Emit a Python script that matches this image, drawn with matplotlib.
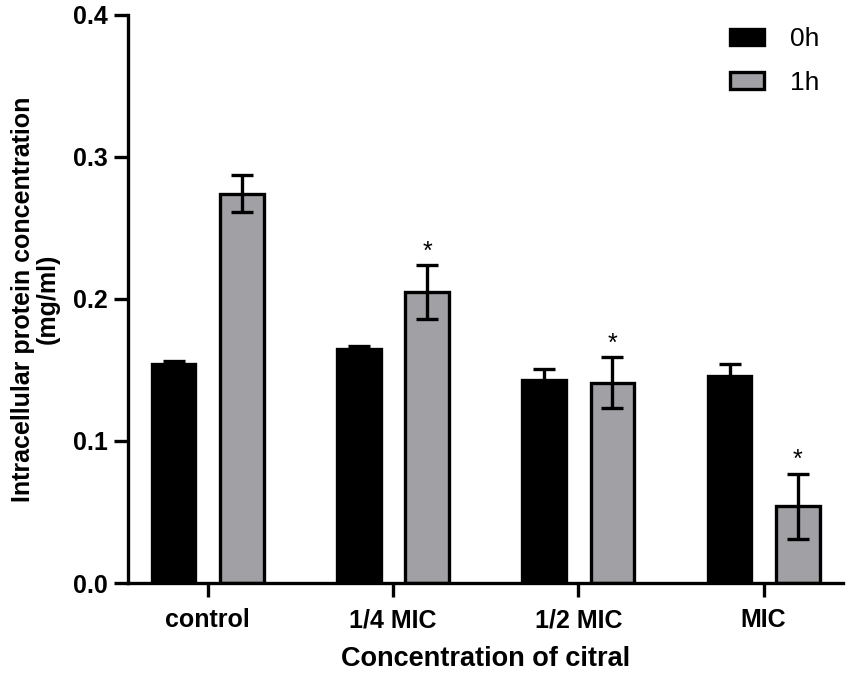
import matplotlib
matplotlib.use("Agg")
import matplotlib.pyplot as plt
import numpy as np

plt.rcParams['font.family'] = ['Liberation Sans', 'DejaVu Sans']

categories = ["control", "1/4 MIC", "1/2 MIC", "MIC"]
series_names = ["0h", "1h"]
values_0h = [0.154, 0.165, 0.143, 0.146]
err_0h = [0.002, 0.002, 0.008, 0.008]
values_1h = [0.274, 0.205, 0.141, 0.054]
err_1h = [0.013, 0.019, 0.018, 0.023]
sig_1h = ["", "*", "*", "*"]
yticks = [0.0, 0.1, 0.2, 0.3, 0.4]

fig = plt.figure(figsize=(8.51, 6.74), dpi=100)
ax = fig.add_axes([0.150, 0.135, 0.841, 0.843])

x = np.arange(len(categories))
off = 0.184
w = 0.235
lw = 2.4

ax.bar(x - off, values_0h, w, color="black", edgecolor="black", linewidth=lw, label=series_names[0], zorder=2)
ax.errorbar(x - off, values_0h, yerr=err_0h, fmt="none", ecolor="black", elinewidth=lw, capsize=8, capthick=lw, zorder=3)
ax.bar(x + off, values_1h, w, color="#a1a1a5", edgecolor="black", linewidth=lw, label=series_names[1], zorder=2)
ax.errorbar(x + off, values_1h, yerr=err_1h, fmt="none", ecolor="black", elinewidth=lw, capsize=8, capthick=lw, zorder=3)

for xi, v, e, s in zip(x, values_1h, err_1h, sig_1h):
    if s:
        ax.text(xi + off, v + e + 0.001, s, ha="center", va="bottom", fontsize=18)

ax.set_xlim(-0.432, 3.43)
ax.set_ylim(0, 0.4)
ax.set_yticks(yticks)
ax.set_yticklabels([f"{t:.1f}" for t in yticks])
ax.set_xticks(x)
ax.set_xticklabels(categories)

for side in ["top", "right"]:
    ax.spines[side].set_visible(False)
for side in ["left", "bottom"]:
    ax.spines[side].set_linewidth(lw)

ax.tick_params(axis="both", width=lw, length=10, labelsize=18)
ax.tick_params(axis="x", pad=8)
ax.tick_params(axis="y", pad=4)
for lbl in ax.get_xticklabels() + ax.get_yticklabels():
    lbl.set_fontweight("bold")

ax.set_xlabel("Concentration of citral", fontsize=19.5, fontweight="bold", labelpad=10)
ax.set_ylabel("Intracellular protein concentration\n(mg/ml)", fontsize=18, fontweight="bold",
              labelpad=10, linespacing=1.0)

leg = ax.legend(loc="upper right", bbox_to_anchor=(1.0, 1.02), frameon=False, fontsize=19,
                handlelength=1.3, handleheight=0.6, handletextpad=1.0, labelspacing=0.75)

fig.savefig("out.png", dpi=100)
